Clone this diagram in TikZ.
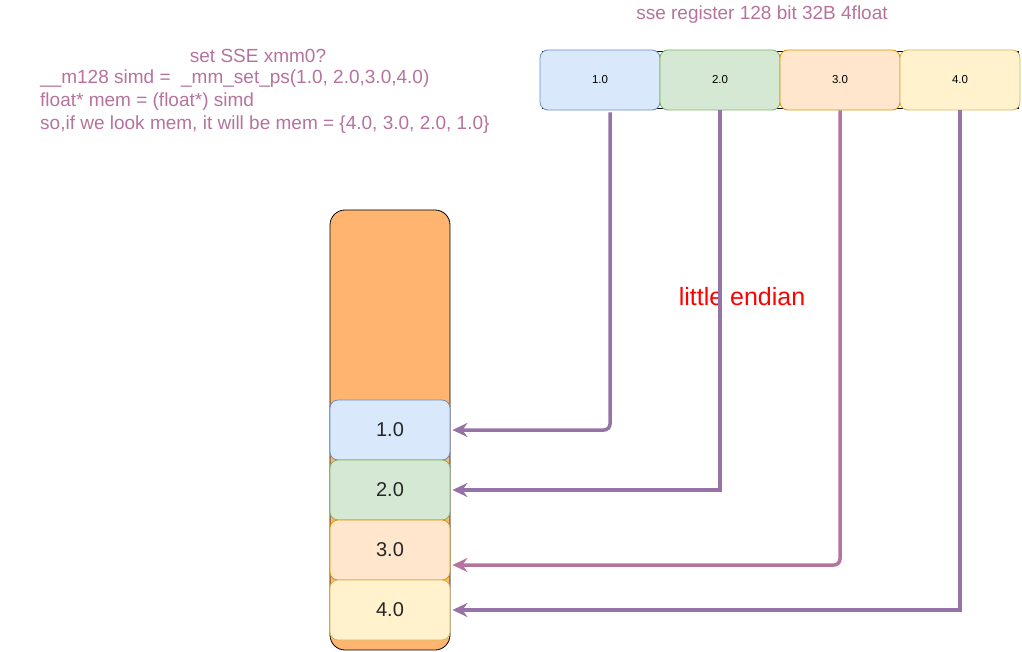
\documentclass[tikz,border=0pt]{standalone}
\usepackage{fontspec}
\setmainfont{Liberation Sans}
\usetikzlibrary{arrows.meta}
\definecolor{pink}{HTML}{B5739D}
\definecolor{purp}{HTML}{9673A6}
\definecolor{bfill}{HTML}{DAE8FC}\definecolor{bdraw}{HTML}{6C8EBF}
\definecolor{gfill}{HTML}{D5E8D4}\definecolor{gdraw}{HTML}{82B366}
\definecolor{ofill}{HTML}{FFE6CC}\definecolor{odraw}{HTML}{D79B00}
\definecolor{yfill}{HTML}{FFF2CC}\definecolor{ydraw}{HTML}{D6B656}
\definecolor{memfill}{HTML}{FFB570}
\tikzset{
  cell/.style={rounded corners=8pt, minimum width=120pt, minimum height=60pt, inner sep=0pt, line width=0.8pt},
  regcell/.style={cell, font=\fontsize{11.5}{13}\selectfont},
  memcell/.style={cell, font=\fontsize{20}{24}\selectfont, text=black!85},
  blue/.style={fill=bfill, draw=bdraw},
  green/.style={fill=gfill, draw=gdraw},
  orange/.style={fill=ofill, draw=odraw},
  yellow/.style={fill=yfill, draw=ydraw},
  note/.style={text=pink, font=\fontsize{19}{23}\selectfont, inner sep=0pt},
  link/.style={line width=3.5pt, -{Stealth[length=15pt,width=14pt,inset=5pt]}}
}
\begin{document}
\begin{tikzpicture}[x=1pt,y=-1pt]
\useasboundingbox (0,0) rectangle (1022,652);
% title
\node[note] (title) at (762,15) {sse register 128 bit 32B 4float};
% code text
\node[note] (t1) at (258,56) {set SSE xmm0?};
\node[note, anchor=west] (t2) at (40,79) {\_\_m128 simd =\ \ \_mm\_set\_ps(1.0, 2.0,3.0,4.0)};
\node[note, anchor=west] (t3) at (40,102) {float* mem = (float*) simd};
\node[note, anchor=west] (t4) at (40,125) {so,if we look mem, it will be mem = \{4.0, 3.0, 2.0, 1.0\}};
% register
\node[draw=black, fill=white, minimum width=476pt, minimum height=57.6pt, inner sep=0pt, line width=0.6pt] (reg) at (780,80) {};
\node[regcell, blue] (r1) at (600,80) {1.0};
\node[regcell, green] (r2) at (720,80) {2.0};
\node[regcell, orange] (r3) at (840,80) {3.0};
\node[regcell, yellow] (r4) at (960,80) {4.0};
% memory
\node[draw=black, fill=memfill, rounded corners=15pt, minimum width=120pt, minimum height=440pt, inner sep=0pt, line width=0.8pt] (mem) at (390,430) {};
\node[memcell, blue] (m1) at (390,430) {1.0};
\node[memcell, green] (m2) at (390,490) {2.0};
\node[memcell, orange] (m3) at (390,550) {3.0};
\node[memcell, yellow] (m4) at (390,610) {4.0};
% label
\node[text=red, font=\fontsize{25}{30}\selectfont, inner sep=0pt] (le) at (742,297) {little endian};
% connectors
\coordinate (s1) at ([xshift=10pt, yshift=-2pt]r1.south);
\draw[link, draw=purp, rounded corners=6pt] (s1) |- ([xshift=2pt]m1.east);
\draw[link, draw=purp] (r2.south) |- ([xshift=2pt]m2.east);
\draw[link, draw=pink, rounded corners=6pt] (r3.south) |- ([xshift=2pt, yshift=-15pt]m3.east);
\draw[link, draw=purp] (r4.south) |- ([xshift=2pt]m4.east);
\end{tikzpicture}
\end{document}
